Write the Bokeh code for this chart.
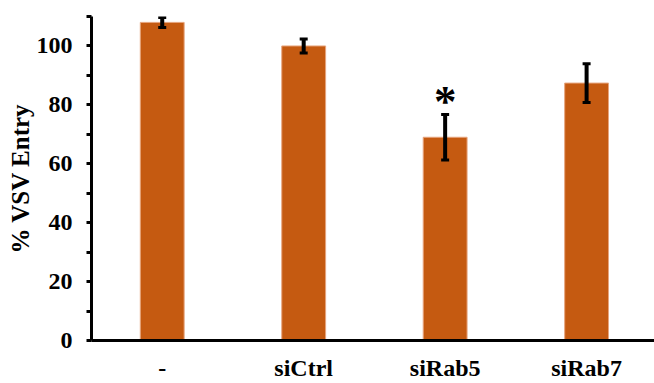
from bokeh.plotting import figure
from bokeh.models import ColumnDataSource, FixedTicker, Whisker, TeeHead, Range1d
from bokeh.core.properties import value
from bokeh.embed import file_html
from bokeh.resources import INLINE

categories = ["-", "siCtrl", "siRab5", "siRab7"]
entry = [108.0, 100.0, 69.0, 87.4]
errors = [1.7, 2.4, 7.7, 6.6]
y_ticks = [0, 20, 40, 60, 80, 100]
y_minor_ticks = [10, 30, 50, 70, 90, 110]
star_category = ["siRab5"]
star_text = ["*"]
star_y = [81.3]

FONT = "Liberation Serif"
BAR = "#C55A11"
FS = "24px"

xs = list(range(len(categories)))
src = ColumnDataSource(dict(
    x=xs, top=entry,
    upper=[v + e for v, e in zip(entry, errors)],
    lower=[v - e for v, e in zip(entry, errors)],
))

p = figure(width=654, height=383, output_backend="svg", toolbar_location=None,
           x_range=Range1d(-0.5, 3.48), y_range=Range1d(0, 110),
           min_border_left=91, min_border_right=0, min_border_top=16, min_border_bottom=42)
p.outline_line_color = None
p.xgrid.visible = False
p.ygrid.visible = False
p.background_fill_color = "white"
p.border_fill_color = "white"

p.vbar(x="x", top="top", width=0.31, bottom=0, source=src,
       fill_color=BAR, line_color="#E7A57E", line_width=1)

w = Whisker(source=src, base="x", upper="upper", lower="lower", dimension="height",
            line_color="black", line_width=4, level="overlay",
            upper_head=TeeHead(size=8, line_width=3, line_color="black"),
            lower_head=TeeHead(size=8, line_width=3, line_color="black"))
p.add_layout(w)

star_x = [categories.index(c) for c in star_category]
p.text(x=star_x, y=star_y, text=star_text, text_font=value(FONT), text_font_style="bold",
       text_font_size="45px", text_align="center", text_baseline="middle", text_color="black")

# y axis
ya = p.yaxis[0]
ya.ticker = FixedTicker(ticks=y_ticks, minor_ticks=y_minor_ticks)
ya.axis_label = "% VSV Entry"
ya.axis_label_text_font = FONT
ya.axis_label_text_font_style = "bold"
ya.axis_label_text_font_size = "25px"
ya.axis_label_text_color = "black"
ya.axis_label_standoff = 0
ya.major_label_text_font = FONT
ya.major_label_text_font_style = "bold"
ya.major_label_text_font_size = FS
ya.major_label_text_color = "black"
ya.major_label_standoff = 14
ya.axis_line_width = 3
ya.axis_line_color = "black"
ya.major_tick_line_width = 3
ya.major_tick_out = 5
ya.major_tick_in = 0
ya.minor_tick_line_width = 3
ya.minor_tick_out = 5
ya.minor_tick_in = 0

# x axis
xa = p.xaxis[0]
xa.ticker = FixedTicker(ticks=xs, minor_ticks=[])
xa.major_label_overrides = {i: c for i, c in zip(xs, categories)}
xa.major_label_text_font = FONT
xa.major_label_text_font_style = "bold"
xa.major_label_text_font_size = FS
xa.major_label_text_color = "black"
xa.major_label_standoff = 14
xa.axis_line_width = 3
xa.axis_line_color = "black"
xa.major_tick_line_color = None
xa.major_tick_out = 0
xa.major_tick_in = 0

open("out.html", "w").write(file_html(p, INLINE))
